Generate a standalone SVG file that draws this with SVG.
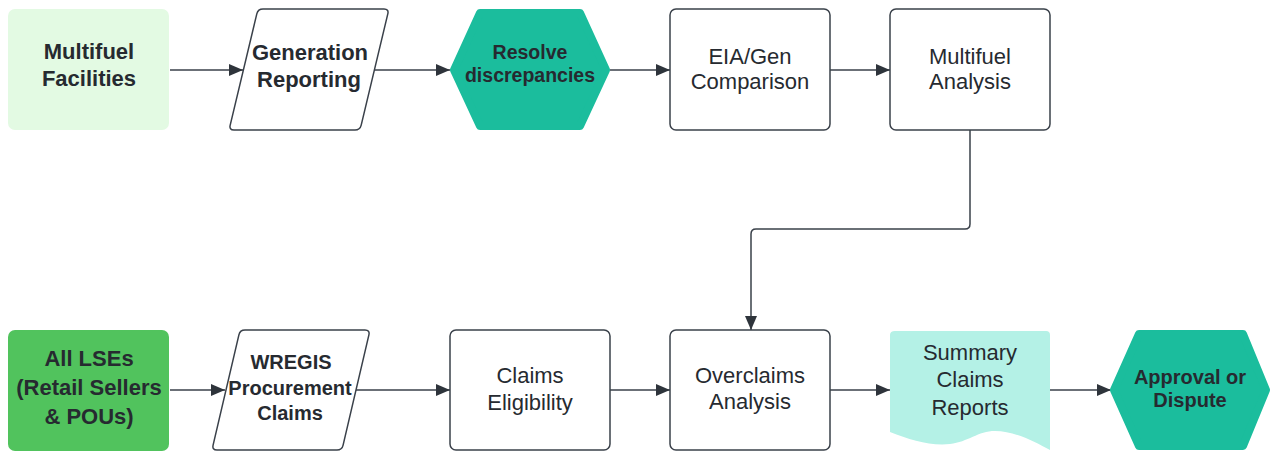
<svg xmlns="http://www.w3.org/2000/svg" width="1270" height="452" viewBox="0 0 1270 452">
<defs>
<style>
.bg{fill:#ffffff}
.box{fill:#ffffff;stroke:#3a414a;stroke-width:1.5}
.t{font-family:"Liberation Sans",Arial,sans-serif;fill:#262a30;text-anchor:middle;font-size:22px}
.b{font-weight:bold}
.hex{fill:#1bbd9d;stroke:#1bbd9d;stroke-width:8;stroke-linejoin:round}
.conn{fill:none;stroke:#3a414a;stroke-width:1.5}
</style>
<marker id="ah" viewBox="0 0 14 12" refX="14" refY="6" markerWidth="14" markerHeight="12" markerUnits="userSpaceOnUse" orient="auto">
<path d="M0,0 L14,6 L0,12 Z" fill="#2e343b"/>
</marker>
</defs>
<rect class="bg" x="0" y="0" width="1270" height="452"/>

<g id="connectors">
<path class="conn" d="M170,70 H243" marker-end="url(#ah)"/>
<path class="conn" d="M374,70 H450" marker-end="url(#ah)"/>
<path class="conn" d="M610,70 H670" marker-end="url(#ah)"/>
<path class="conn" d="M830,70 H890" marker-end="url(#ah)"/>
<path class="conn" d="M970,130 V224 Q970,229 965,229 H756 Q751,229 751,234 V330" marker-end="url(#ah)"/>
<path class="conn" d="M170,390 H225" marker-end="url(#ah)"/>
<path class="conn" d="M356,390 H450" marker-end="url(#ah)"/>
<path class="conn" d="M610,390 H670" marker-end="url(#ah)"/>
<path class="conn" d="M830,390 H890" marker-end="url(#ah)"/>
<path class="conn" d="M1050,390 H1111" marker-end="url(#ah)"/>
</g>

<g id="multifuel-facilities">
<rect x="8" y="9" width="161" height="121" rx="7" fill="#e3fae3"/>
<text class="t b" x="89" y="59">Multifuel</text>
<text class="t b" x="89" y="86">Facilities</text>
</g>

<g id="generation-reporting">
<path class="box" d="M263,9 L384,9 Q389,9 387.8,13.9 L361.2,125.1 Q360,130 355,130 L234,130 Q229,130 230.2,125.1 L256.8,13.9 Q258,9 263,9 Z"/>
<text class="t b" x="310" y="60">Generation</text>
<text class="t b" x="309" y="87">Reporting</text>
</g>

<g id="resolve-discrepancies">
<polygon class="hex" points="454,70 480,13 580,13 606,70 580,126 480,126"/>
<text class="t b" x="530" y="59" style="font-size:19.5px">Resolve</text>
<text class="t b" x="530" y="82" style="font-size:19.5px">discrepancies</text>
</g>

<g id="eia-gen-comparison">
<rect class="box" x="670" y="9" width="160" height="121" rx="6"/>
<text class="t" x="750" y="64">EIA/Gen</text>
<text class="t" x="750" y="89">Comparison</text>
</g>

<g id="multifuel-analysis">
<rect class="box" x="890" y="9" width="160" height="121" rx="6"/>
<text class="t" x="970" y="64">Multifuel</text>
<text class="t" x="970" y="89">Analysis</text>
</g>

<g id="all-lses">
<rect x="8" y="330" width="161" height="121" rx="7" fill="#51c35d"/>
<text class="t b" x="89" y="366">All LSEs</text>
<text class="t b" x="89" y="395">(Retail Sellers</text>
<text class="t b" x="89" y="424">&amp; POUs)</text>
</g>

<g id="wregis-procurement-claims">
<path class="box" d="M245,330 L365,330 Q370,330 368.9,334.9 L343.1,445.1 Q342,450 337,450 L217,450 Q212,450 213.1,445.1 L238.9,334.9 Q240,330 245,330 Z"/>
<text class="t b" x="291" y="369" style="font-size:20px">WREGIS</text>
<text class="t b" x="290" y="395" style="font-size:20px">Procurement</text>
<text class="t b" x="290" y="420" style="font-size:20px">Claims</text>
</g>

<g id="claims-eligibility">
<rect class="box" x="450" y="330" width="160" height="120" rx="6"/>
<text class="t" x="530" y="383">Claims</text>
<text class="t" x="530" y="410">Eligibility</text>
</g>

<g id="overclaims-analysis">
<rect class="box" x="670" y="330" width="160" height="120" rx="6"/>
<text class="t" x="750" y="383">Overclaims</text>
<text class="t" x="750" y="409">Analysis</text>
</g>

<g id="summary-claims-reports">
<path d="M895,331 H1046 Q1050,331 1050,335 V450 C1035,442 1015,431 995,431 C978,431 968,442 950,444 C930,446 910,440 890,432 V335 Q890,331 895,331 Z" fill="#b4f1e6"/>
<text class="t" x="970" y="360">Summary</text>
<text class="t" x="970" y="387">Claims</text>
<text class="t" x="970" y="415">Reports</text>
</g>

<g id="approval-or-dispute">
<polygon class="hex" points="1114,390 1139,334 1243,334 1266,390 1243,446 1139,446"/>
<text class="t b" x="1190" y="384" style="font-size:20px">Approval or</text>
<text class="t b" x="1190" y="407" style="font-size:20px">Dispute</text>
</g>
</svg>
